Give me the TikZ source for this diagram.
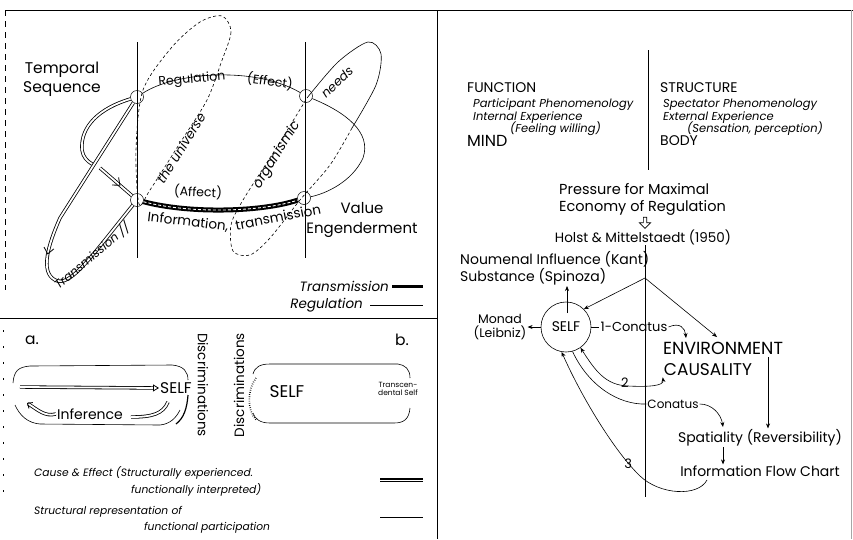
\documentclass[tikz,border=0pt]{standalone}
\usepackage{fontspec}
\setmainfont{Poppins}
\usetikzlibrary{arrows.meta, positioning, calc, shapes.arrows, decorations.markings}

\tikzset{
  lbl/.style={inner sep=1pt, font=\fontsize{13.5}{15}\selectfont},
  it/.style={inner sep=1pt, font=\fontsize{11.5}{13}\selectfont\itshape},
  big/.style={inner sep=1pt, font=\fontsize{15.5}{19}\selectfont},
  unc/.style={inner sep=1pt, font=\fontsize{14}{15}\selectfont},
  knot/.style={draw, circle, minimum size=13pt, inner sep=0pt, line width=0.5pt},
  reg/.style={line width=0.6pt},
  dsh/.style={line width=0.6pt, dash pattern=on 3pt off 2.5pt},
  tr/.style={double, line width=0.8pt, double distance=1.8pt},
  frm/.style={line width=0.8pt},
  a/.style={-{Stealth[length=5pt, width=4pt]}, line width=0.6pt},
  barbs/.style={decoration={markings, mark=at position #1 with
      {\draw[line width=0.8pt] (-5pt,5pt) -- (1pt,0pt) -- (-5pt,-5pt);}}, postaction=decorate},
}

\begin{document}
\begin{tikzpicture}[x=1pt, y=-1pt]
\useasboundingbox (0,0) rectangle (853,539);

% panel frames
\draw[frm] (5,10) -- (853,10);
\draw[frm] (437,10) -- (437,539);
\draw[frm] (0,318) -- (437,318);
\draw[line width=0.5pt, dash pattern=on 6pt off 5pt] (5,10) -- (5,290);
\draw[line width=0.5pt, dash pattern=on 2pt off 14pt] (3,330) -- (3,500);
\draw[line width=0.4pt, gray!70] (851,10) -- (851,539);

%%% top left: temporal sequence / value engenderment
\node[knot] (tl) at (137,97) {};
\node[knot] (tr) at (306,96) {};
\node[knot] (bl) at (137,200) {};
\node[knot] (br) at (304,198) {};
\coordinate (v1t) at (137,42);  \coordinate (v1b) at (137,258);
\coordinate (v2t) at (305,42);  \coordinate (v2b) at (305,258);
\draw[reg] (v1t) -- (v1b);
\draw[reg] (v2t) -- (v2b);

% regulation loop
\draw[reg] (tl) .. controls (175,72) and (255,66) .. (tr)
  .. controls (345,112) and (372,132) .. (363,158)
  .. controls (352,182) and (325,194) .. (br);
% transmission band
\draw[line width=5pt] (bl) .. controls (190,214) and (262,212) .. (br);
\draw[white, line width=0.9pt, dash pattern=on 3pt off 2pt] (bl) .. controls (190,214) and (262,212) .. (br);

% the universe / organismic needs
\draw[dsh] plot[smooth cycle] coordinates {(222,16) (231,32) (221,63) (207,100) (180,143) (150,190) (139,204) (136,150) (143,90) (172,47) (200,22)};
\draw[reg] plot[smooth] coordinates {(307,98) (338,62) (368,42) (381,54) (376,85) (352,128)};
\draw[dsh] plot[smooth] coordinates {(352,128) (330,165) (300,200) (270,238) (250,255) (233,251) (231,225) (243,200) (275,150) (307,98)};

% transmission paths
\draw[tr] (tl) .. controls (100,108) and (80,126) .. (82,150) .. controls (83,157) and (87,161) .. (92,164);
\draw[tr, barbs=0.55] (tl) -- (60,218) .. controls (48,245) and (40,272) .. (55,280) .. controls (70,288) and (90,258) .. (bl);
\draw[tr, barbs=0.6] (100,168) -- (bl);

\node[big, align=center] (temp) at (62,79) {Temporal\\Sequence};
\node[big, align=center, font=\fontsize{15}{20}\selectfont] (value) at (362,220) {Value\\Engenderment};
\node[lbl, font=\fontsize{12.5}{14}\selectfont, rotate=5] (regl) at (192,80) {Regulation};
\node[lbl, font=\fontsize{12.5}{14}\selectfont, rotate=-8] (eff) at (270,81) {(Effect)};
\node[it, font=\fontsize{12.5}{14}\selectfont\itshape, rotate=43] (needs) at (337,82) {needs};
\node[it, font=\fontsize{13}{14}\selectfont\itshape, rotate=58] (univ) at (181,148) {the universe};
\node[it, font=\fontsize{13.5}{14}\selectfont\itshape, rotate=58] (org) at (277,155) {organismic};
\node[lbl, font=\fontsize{12.5}{14}\selectfont, rotate=-3] (aff) at (198,192) {(Affect)};
\node[lbl, rotate=-7] (info1) at (188,222) {Information,};
\node[lbl, rotate=11] (info2) at (278,217) {transmission};
\node[it, font=\fontsize{12}{13}\selectfont\itshape, rotate=40] (trl) at (92,256) {Transmission //};

% legend
\node[it, font=\fontsize{13.5}{14}\selectfont\itshape, anchor=east] (lgt) at (390,286) {Transmission};
\node[it, font=\fontsize{13.5}{14}\selectfont\itshape, anchor=east] (lgr) at (364,305) {Regulation};
\draw[line width=3pt] (lgt.east) ++(2,0) coordinate (lgt1) -- (423,286) coordinate (lgt2);
\draw[reg] (lgr.east) ++(6,0) coordinate (lgr1) -- (423,305) coordinate (lgr2);

%%% bottom left: a. / b.
\node[big] (la) at (32,340) {a.};
\node[big] (lb) at (402,340) {b.};

% box a
\draw[reg] (13,383) .. controls (14,371) and (18,367) .. (30,366) -- (172,365)
  .. controls (184,366) and (188,372) .. (188,380);
\draw[line width=1.2pt] (188,395) .. controls (187,408) and (184,418) .. (176,424);
\draw[reg] (15,405) .. controls (20,416) and (28,423) .. (40,424) -- (160,425) .. controls (170,424) and (176,418) .. (180,410);
\node[big] (selfa) at (176,388) {SELF};
\coordinate (aa) at (20,387);
\draw[tr, -{Triangle[open, length=6pt, width=7pt]}] (aa) -- (selfa.west);
\node[lbl, font=\fontsize{14}{15}\selectfont] (inf) at (90,414) {Inference};
\draw[tr] (168,402) .. controls (163,414) and (152,417) .. (131,417);
\draw[tr, -{Straight Barb[length=4pt, width=7pt]}] (inf.west) .. controls (45,417) and (38,410) .. (27,403);

\node[lbl, rotate=-90] (disa) at (203,385) {Discriminations};
\node[lbl, rotate=90] (disb) at (239,385) {Discriminations};
\draw[line width=1.6pt, dash pattern=on 0.6pt off 1.6pt] (256,378) .. controls (247,390) and (247,410) .. (256,420);

% box b
\draw[reg] (253,374) .. controls (255,367) and (260,364) .. (270,364) -- (398,364)
  .. controls (405,365) and (410,369) .. (410,378);
\draw[reg] (410,408) .. controls (409,419) and (404,423) .. (394,423) -- (270,423)
  .. controls (260,423) and (255,419) .. (253,413);
\node[big, font=\fontsize{17}{18}\selectfont] (selfb) at (287,392) {SELF};
\node[inner sep=1pt, font=\fontsize{7.5}{8.5}\selectfont, align=center] (trans) at (398,389) {Transcen-\\dental Self};

% bottom legend
\node[it, font=\fontsize{10.7}{12}\selectfont\itshape, anchor=west] (ce1) at (33,473) {Cause \& Effect (Structurally experienced.};
\node[it, font=\fontsize{10.7}{12}\selectfont\itshape, anchor=west] (ce2) at (130,490) {functionally interpreted)};
\node[it, font=\fontsize{10.7}{12}\selectfont\itshape, anchor=west] (sr1) at (33,512) {Structural representation of};
\node[it, font=\fontsize{10.7}{12}\selectfont\itshape, anchor=west] (sr2) at (143,528) {functional participation};
\coordinate (ceL) at (380,480); \coordinate (ceR) at (423,480);
\draw[line width=4.4pt] (ceL) -- (ceR);
\draw[white, line width=1pt] (ceL) -- (ceR);
\coordinate (srL) at (380,516); \coordinate (srR) at (423,516);
\draw[double, line width=0.5pt, double distance=2pt] (srL) -- (srR);

%%% right panel
\coordinate (m1) at (648,50);  \coordinate (m2) at (648,170);
\coordinate (m3) at (645,245); \coordinate (m4) at (645,497);
\draw[reg] (m1) -- (m2);
\draw[reg] (m3) -- (m4);

\node[unc, anchor=west] (func) at (466,88) {FUNCTION};
\node[it, anchor=west, align=left] (part) at (472,111.5) {Participant Phenomenology\\Internal Experience};
\node[it, anchor=west] (feel) at (509,129) {(Feeling willing)};
\node[unc, font=\fontsize{16}{17}\selectfont, anchor=west] (mind) at (466,141) {MIND};
\node[unc, anchor=west] (struc) at (659,88) {STRUCTURE};
\node[it, anchor=west, align=left] (spec) at (662,111.5) {Spectator Phenomenology\\External Experience};
\node[it, anchor=west] (sens) at (686,129) {(Sensation, perception)};
\node[unc, font=\fontsize{14}{15}\selectfont, anchor=west] (body) at (659,141) {BODY};

\node[lbl, font=\fontsize{14.5}{17}\selectfont, anchor=west, align=left] (press) at (558,199) {Pressure for Maximal\\Economy of Regulation};
\node[single arrow, draw, line width=0.7pt, rotate=-90, minimum height=11pt, minimum width=11pt,
  single arrow head extend=2pt, inner sep=0.5pt] (down) at (645,222) {};
\node[lbl] (holst) at (643,237) {Holst \& Mittelstaedt (1950)};

\node[lbl, font=\fontsize{14}{14.5}\selectfont, anchor=west, align=left] (noum) at (459,268) {Noumenal Influence (Kant)\\Substance (Spinoza)};
\node[draw, circle, line width=0.6pt, minimum size=50pt, inner sep=0pt, font=\fontsize{14}{15}\selectfont] (self) at (566,327) {SELF};
\node[lbl, font=\fontsize{12.5}{13.5}\selectfont, align=center] (monad) at (500,327) {Monad\\(Leibniz)};
\coordinate (hub) at (645,278);
\coordinate (selfup) at (567,313);
\coordinate (noumtip) at (567,286);
\draw[a] (selfup) -- (noumtip);
\draw[a] (self.west) -- (monad.east);
\draw[a] (hub) -- (self.north east);

\node[unc, font=\fontsize{17.5}{18}\selectfont] (env) at (723,348) {ENVIRONMENT};
\node[unc, font=\fontsize{17}{18}\selectfont] (caus) at (708,370) {CAUSALITY};
\coordinate (envtip) at (717,337);
\draw[a] (hub) -- (envtip);

\node[lbl, font=\fontsize{13}{14}\selectfont] (c1) at (634,327) {1-Conatus};
\draw[reg] (self.east) -- (c1.west);
\coordinate (c1tip) at (686,338);
\draw[a] (c1.east) .. controls (680,322) and (685,328) .. (c1tip);

\node[lbl, font=\fontsize{14}{15}\selectfont] (spat) at (760,438) {Spatiality (Reversibility)};
\node[lbl, font=\fontsize{14}{15}\selectfont] (info) at (760,471) {Information Flow Chart};
\coordinate (envr) at (768,357);
\draw[a] (envr) -- (envr |- spat.north);
\draw[a] (723,447) coordinate (sp1) -- (sp1 |- info.north);

\draw[{Stealth[length=5pt, width=4pt]}-{Stealth[length=5pt, width=4pt]}, line width=0.6pt]
  (self.-55) .. controls (596,372) and (606,385) .. node[pos=0.95, lbl, font=\fontsize{13}{14}\selectfont, above, yshift=-3pt] (two) {2} (628,386)
  .. controls (648,387) and (664,386) .. (caus.south west);

\node[lbl, font=\fontsize{12}{13}\selectfont] (con2) at (673,404) {Conatus};
\draw[reg] (self.-75) .. controls (588,385) and (618,405) .. (con2.west);
\coordinate (con2tip) at (723,427);
\draw[a] (con2.east) .. controls (712,404) and (721,414) .. (con2tip);

\coordinate (inf3) at (707,480);
\draw[a] (inf3) .. controls (698,497) and (660,495) .. (640,476)
  .. controls (615,452) and (582,398) .. node[pos=0.15, lbl, font=\fontsize{13}{14}\selectfont] (three) {3} (self.-100);
\end{tikzpicture}
\end{document}
